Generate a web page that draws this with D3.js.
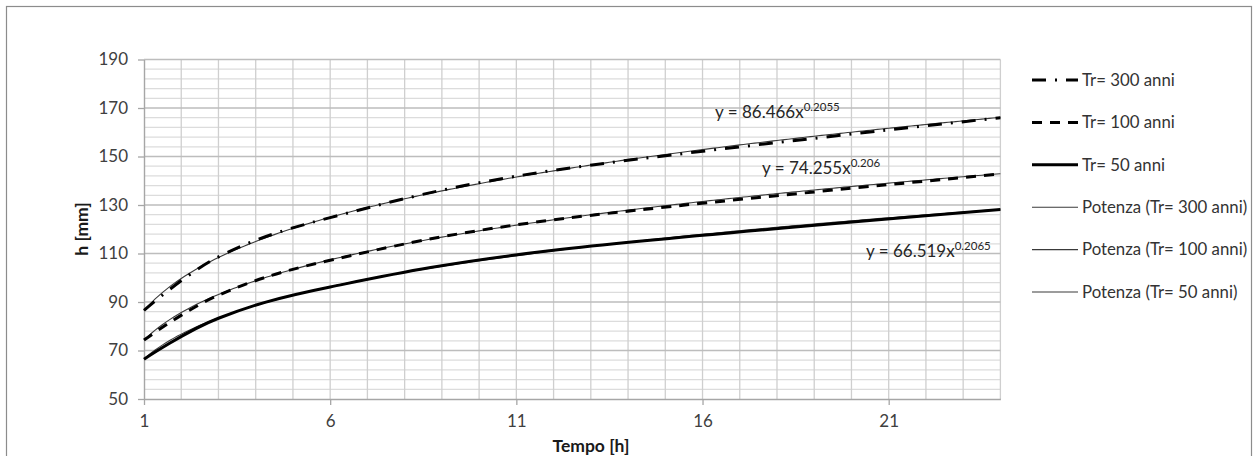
<!DOCTYPE html>
<html>
<head>
<meta charset="utf-8">
<script src="https://cdn.jsdelivr.net/npm/d3@7"></script>
<style>
  body { margin: 0; background: #fff; }
  svg { font-family: Lato, "Open Sans", sans-serif; }
</style>
</head>
<body>
<svg id="chart" width="1258" height="456"></svg>
<script>
/*global d3*/
// durations [h] and rainfall heights [mm]
const durations = [1, 3, 6, 12, 24]
const h300 = [86.5, 108.6, 124.8, 144.3, 166.0]
const h100 = [74.3, 92.8, 107.2, 123.9, 142.8]
const h50 = [66.4, 83.3, 96.2, 111.3, 128.1]
const seriesNames = ["Tr= 300 anni", "Tr= 100 anni", "Tr= 50 anni"]

// power trendlines y = a*x^b (from the labels)
const trendA = [86.466, 74.255, 66.519]
const trendB = [0.2055, 0.206, 0.2065]
const trendNames = ["Potenza (Tr= 300 anni)", "Potenza (Tr= 100 anni)", "Potenza (Tr= 50 anni)"]

const xTicks = [1, 6, 11, 16, 21]
const yTicks = [50, 70, 90, 110, 130, 150, 170, 190]

const svg = d3.select("#chart")
const W = 1258, H = 456
const pLeft = 144, pRight = 1000.4, pTop = 59.5, pBottom = 399

// chart border
svg.append("rect")
  .attr("x", 6.5).attr("y", 6.5)
  .attr("width", W - 13).attr("height", H)
  .attr("fill", "#fff").attr("stroke", "#8c8c8c").attr("stroke-width", 1.2)

const x = d3.scaleLinear().domain([1, 24]).range([pLeft, pRight])
const y = d3.scaleLinear().domain([50, 190]).range([pBottom, pTop])

// gridlines
const grid = svg.append("g")
const minorY = d3.range(54, 190, 4).filter(v => (v - 50) % 20 !== 0)
grid.selectAll(".minY").data(minorY).join("line")
  .attr("x1", pLeft).attr("x2", pRight)
  .attr("y1", d => y(d)).attr("y2", d => y(d))
  .attr("stroke", "#dcdcdc").attr("stroke-width", 1.3)
grid.selectAll(".vx").data(d3.range(2, 25)).join("line")
  .attr("x1", d => x(d)).attr("x2", d => x(d))
  .attr("y1", pTop).attr("y2", pBottom)
  .attr("stroke", "#cfcfcf").attr("stroke-width", 1.3)
grid.selectAll(".majY").data(yTicks.slice(1)).join("line")
  .attr("x1", pLeft).attr("x2", pRight)
  .attr("y1", d => y(d)).attr("y2", d => y(d))
  .attr("stroke", "#bdbdbd").attr("stroke-width", 1.4)

// axes
const xAxis = svg.append("g")
  .attr("transform", `translate(0,${pBottom})`)
  .call(d3.axisBottom(x).tickValues(xTicks).tickSize(6).tickPadding(10).tickSizeOuter(0))
const yAxis = svg.append("g")
  .attr("transform", `translate(${pLeft},0)`)
  .call(d3.axisLeft(y).tickValues(yTicks).tickSize(6).tickPadding(10).tickSizeOuter(0))

;[xAxis, yAxis].forEach(ax => {
  ax.select(".domain").attr("stroke", "#a6a6a6").attr("stroke-width", 1.4)
  ax.selectAll(".tick line").attr("stroke", "#a6a6a6").attr("stroke-width", 1.3)
  ax.selectAll(".tick text")
    .attr("fill", "#404040")
    .style("font-size", "17px")
    .style("font-family", "Lato, sans-serif")
})

// axis titles
svg.append("text")
  .attr("x", 591).attr("y", 452)
  .attr("text-anchor", "middle")
  .attr("font-weight", "bold").attr("font-size", 17.5).attr("fill", "#1a1a1a")
  .text("Tempo [h]")
svg.append("text")
  .attr("transform", "translate(88,229) rotate(-90)")
  .attr("text-anchor", "middle")
  .attr("font-weight", "bold").attr("font-size", 17.5).attr("fill", "#1a1a1a")
  .text("h [mm]")

// trendlines
const xs = d3.range(1, 24.001, 0.1)
const trendLine = d3.line().x(d => x(d[0])).y(d => y(d[1]))
trendA.forEach((a, i) => {
  svg.append("path")
    .attr("d", trendLine(xs.map(t => [t, a * Math.pow(t, trendB[i])])))
    .attr("fill", "none").attr("stroke", "#3a3a3a").attr("stroke-width", 1.1)
})

// data series (smoothed)
const dashes = ["14,9,2,9", "10,8", null]
const line = d3.line().x(d => x(d[0])).y(d => y(d[1])).curve(d3.curveCardinal.tension(0))
;[h300, h100, h50].forEach((vals, i) => {
  svg.append("path")
    .attr("d", line(durations.map((t, j) => [t, vals[j]])))
    .attr("fill", "none").attr("stroke", "#000").attr("stroke-width", 3)
    .attr("stroke-dasharray", dashes[i])
})

// equation labels
const eqPos = [[715, 118], [762, 174], [866, 257]]
trendA.forEach((a, i) => {
  const t = svg.append("text")
    .attr("x", eqPos[i][0]).attr("y", eqPos[i][1])
    .attr("font-size", 17).attr("fill", "#262626")
    .text(`y = ${a}x`)
  t.append("tspan").attr("dy", -7).attr("font-size", 11.5).text(trendB[i])
})

// legend
const legendItems = seriesNames.map((n, i) => ({ name: n, dash: dashes[i], w: 3, c: "#000" }))
  .concat(trendNames.map(n => ({ name: n, dash: null, w: 1.1, c: "#3a3a3a" })))
const lg = svg.append("g")
legendItems.forEach((d, i) => {
  const ly = 80 + i * 42.4
  lg.append("line")
    .attr("x1", 1032).attr("x2", 1078).attr("y1", ly).attr("y2", ly)
    .attr("stroke", d.c).attr("stroke-width", d.w).attr("stroke-dasharray", d.dash)
  lg.append("text")
    .attr("x", 1082).attr("y", ly).attr("dy", "0.35em")
    .attr("font-size", 16.8).attr("fill", "#333")
    .text(d.name)
})
</script>
</body>
</html>
